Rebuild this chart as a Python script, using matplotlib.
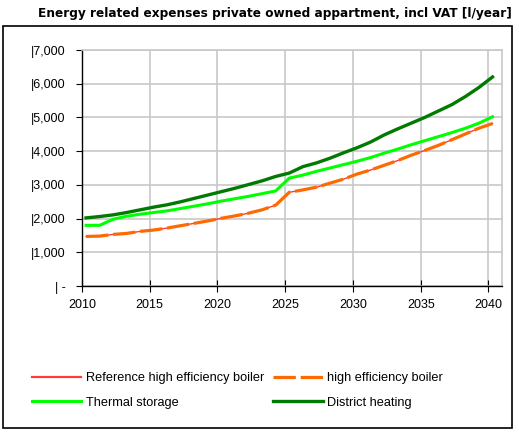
import matplotlib
matplotlib.use("Agg")
import matplotlib.pyplot as plt
from matplotlib.patches import Rectangle

years = list(range(2010, 2041))
reference_boiler = [1470, 1480, 1530, 1560, 1620, 1660, 1720, 1790, 1860, 1930, 2010,
                    2080, 2160, 2260, 2400, 2780, 2850, 2930, 3050, 3170, 3320,
                    3440, 3580, 3720, 3880, 4020, 4170, 4340, 4510, 4680, 4820]
high_eff_boiler = list(reference_boiler)
thermal_storage = [1800, 1800, 1980, 2070, 2130, 2180, 2230, 2300, 2370, 2440, 2520,
                   2590, 2660, 2740, 2820, 3200, 3290, 3400, 3500, 3600, 3700,
                   3810, 3940, 4060, 4190, 4310, 4430, 4550, 4680, 4830, 5020]
district_heating = [2020, 2060, 2110, 2180, 2260, 2340, 2410, 2500, 2600, 2700, 2800,
                    2900, 3010, 3120, 3250, 3350, 3540, 3650, 3790, 3950, 4100,
                    4270, 4480, 4660, 4830, 5000, 5190, 5380, 5620, 5890, 6200]
x_ticks = [2010, 2015, 2020, 2025, 2030, 2035, 2040]
y_ticks = [0, 1000, 2000, 3000, 4000, 5000, 6000, 7000]
y_labels = ["| -", "|1,000", "|2,000", "|3,000", "|4,000", "|5,000", "|6,000", "|7,000"]
title = "Energy related expenses private owned appartment, incl VAT [l/year]"

plt.rcParams['font.family'] = ['Liberation Sans', 'DejaVu Sans']
W, H = 519, 433
fig = plt.figure(figsize=(W / 100, H / 100), dpi=100)
fig.patch.set_facecolor('white')

# outer frame
fig.patches.append(Rectangle((3 / W, 1 - 428 / H), 509 / W, 402 / H, transform=fig.transFigure,
                             fill=False, edgecolor='black', linewidth=1.2))
fig.text(275 / W, 1 - 13 / H, title, ha='center', va='center', fontsize=8.75,
         fontweight='bold', family=['DejaVu Sans'])

ax = fig.add_axes([82 / W, 1 - 286 / H, (502 - 82) / W, (286 - 50) / H])
off = 0.3
xs = [y + off for y in years]
ax.plot(xs, reference_boiler, color='#ff3b3b', lw=1.0, label='Reference high efficiency boiler', zorder=3)
ax.plot(xs, high_eff_boiler, color='#ff6a00', lw=2.3, dashes=(7, 1.5), label='high efficiency boiler', zorder=4)
ax.plot(xs, thermal_storage, color='#00ff00', lw=2.2, label='Thermal storage', zorder=3)
ax.plot(xs, district_heating, color='#007a00', lw=2.4, label='District heating', zorder=3)

ax.set_xlim(2010, 2041)
ax.set_ylim(0, 7000)
ax.set_xticks(x_ticks)
ax.set_yticks(y_ticks)
ax.set_yticklabels(y_labels)
ax.grid(True, color='#c8c8c8', lw=1.2)
ax.set_axisbelow(True)
for s in ['top', 'right']:
    ax.spines[s].set_color('#c8c8c8')
    ax.spines[s].set_linewidth(1.2)
for s in ['left', 'bottom']:
    ax.spines[s].set_color('black')
    ax.spines[s].set_linewidth(1.0)
ax.tick_params(axis='y', direction='out', length=4, labelsize=9, pad=8)
ax.tick_params(axis='x', direction='inout', length=8, labelsize=9, pad=5)

handles, labels = ax.get_legend_handles_labels()
order = [0, 2, 1, 3]
leg = fig.legend([handles[i] for i in order], [labels[i] for i in order],
                 loc='upper left', bbox_to_anchor=(20 / W, 1 - 361 / H), ncol=2,
                 frameon=False, fontsize=9.2, handlelength=3.9, handletextpad=0.35,
                 columnspacing=0.7, labelspacing=0.95)
leg.get_lines()[0].set_linewidth(1.6)

fig.savefig('out.png', dpi=100)
